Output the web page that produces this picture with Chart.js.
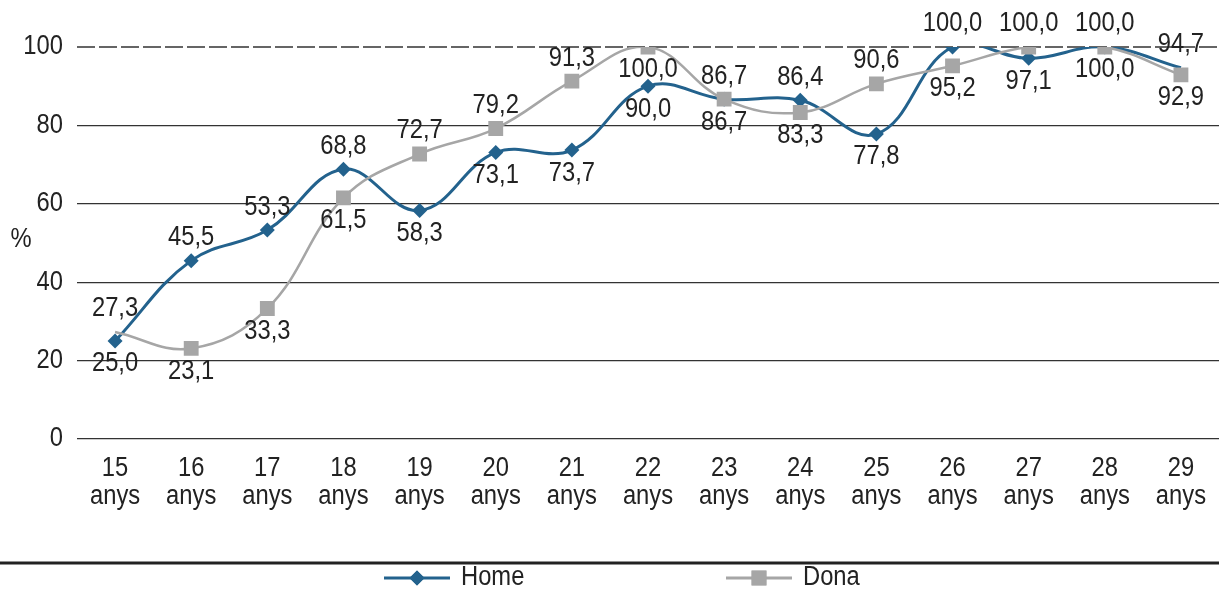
<!DOCTYPE html>
<html>
<head>
<meta charset="utf-8">
<script src="https://cdn.jsdelivr.net/npm/chart.js@4.4.1/dist/chart.umd.min.js"></script>
<style>
  html, body { margin: 0; padding: 0; background: #fff; overflow: hidden; }
  canvas { display: block; }
</style>
</head>
<body>
<canvas id="chart" width="1219" height="592"></canvas>
<script>
// --- Daten ---
const ages = ['15', '16', '17', '18', '19', '20', '21', '22', '23', '24', '25', '26', '27', '28', '29'];
const home = [25.0, 45.5, 53.3, 68.8, 58.3, 73.1, 73.7, 90.0, 86.7, 86.4, 77.8, 100.0, 97.1, 100.0, 94.7];
const dona = [27.3, 23.1, 33.3, 61.5, 72.7, 79.2, 91.3, 100.0, 86.7, 83.3, 90.6, 95.2, 100.0, 100.0, 92.9];
const yTicks = [0, 20, 40, 60, 80, 100];

// label position per point: -1 above, 1 below
const homePos = [1, -1, -1, -1, 1, 1, 1, 1, 1, -1, 1, -1, 1, -1, -1];
const donaPos = [-1, 1, 1, 1, -1, -1, -1, 1, -1, 1, -1, 1, -1, 1, 1];

const FONT = "'Liberation Sans', Arial, sans-serif";
const FSIZE = 27;
const SX = 0.88; // schmale Schrift nachbilden
const BLUE = '#23628d';
const GREY = '#a6a6a6';
const TEXT = '#222';

function fmt(v) {
    return v.toFixed(1).replace('.', ',');
}

// Text horizontal gestaucht zeichnen
function narrowText(ctx, txt, x, y, align) {
    ctx.save();
    ctx.translate(x, y);
    ctx.scale(SX, 1);
    ctx.textAlign = align || 'center';
    ctx.fillText(txt, 0, 0);
    ctx.restore();
}

const labelPlugin = {
    id: 'labels',
    beforeDatasetsDraw(chart) {
        // oberste Gitterlinie gestrichelt
        const ctx = chart.ctx;
        const a = chart.chartArea;
        const yp = chart.scales.y.getPixelForValue(100);
        ctx.save();
        ctx.strokeStyle = '#333';
        ctx.lineWidth = 1.3;
        ctx.setLineDash([18, 4]);
        ctx.beginPath();
        ctx.moveTo(a.left, yp);
        ctx.lineTo(a.right, yp);
        ctx.stroke();
        ctx.restore();
    },
    afterDatasetsDraw(chart) {
        const ctx = chart.ctx;
        const y = chart.scales.y;
        ctx.save();
        ctx.font = FSIZE + 'px ' + FONT;
        ctx.fillStyle = TEXT;
        ctx.textBaseline = 'middle';
        [[0, homePos], [1, donaPos]].forEach(([di, pos]) => {
            const meta = chart.getDatasetMeta(di);
            meta.data.forEach((pt, i) => {
                const v = chart.data.datasets[di].data[i];
                narrowText(ctx, fmt(v), pt.x, y.getPixelForValue(v) + pos[i] * 23);
            });
        });
        ctx.restore();
    },
    afterDraw(chart) {
        const ctx = chart.ctx;
        const xs = chart.scales.x;
        const ys = chart.scales.y;
        ctx.save();
        ctx.font = FSIZE + 'px ' + FONT;
        ctx.fillStyle = TEXT;
        ctx.textBaseline = 'middle';
        // Achsenbeschriftungen
        yTicks.forEach(v => narrowText(ctx, String(v), 63, ys.getPixelForValue(v), 'right'));
        ages.forEach((a, i) => {
            const px = xs.getPixelForValue(i);
            narrowText(ctx, a, px, 469);
            narrowText(ctx, 'anys', px, 497);
        });
        narrowText(ctx, '%', 21, 240);
        // Trennlinie
        ctx.strokeStyle = '#222';
        ctx.lineWidth = 3;
        ctx.beginPath();
        ctx.moveTo(0, 563);
        ctx.lineTo(1219, 563);
        ctx.stroke();
        // Legende
        const ly = 578;
        const items = [
            { x: 384, label: 'Home', color: BLUE, style: 'rectRot', r: 7.5 },
            { x: 726, label: 'Dona', color: GREY, style: 'rect', r: 10.5 }
        ];
        items.forEach(it => {
            ctx.strokeStyle = it.color;
            ctx.lineWidth = 3;
            ctx.beginPath();
            ctx.moveTo(it.x, ly);
            ctx.lineTo(it.x + 66, ly);
            ctx.stroke();
            ctx.fillStyle = it.color;
            Chart.helpers.drawPoint(ctx, { pointStyle: it.style, radius: it.r, borderWidth: 0, rotation: 0 }, it.x + 33, ly);
            ctx.fill();
            ctx.fillStyle = TEXT;
            narrowText(ctx, it.label, it.x + 77, ly, 'left');
        });
        ctx.restore();
    }
};

const ctx = document.getElementById('chart').getContext('2d');
const chart = new Chart(ctx, {
    type: 'line',
    data: {
        labels: ages.map(a => [a, 'anys']),
        datasets: [{
            label: 'Home',
            data: home,
            borderColor: BLUE,
            backgroundColor: BLUE,
            borderWidth: 3,
            pointStyle: 'rectRot',
            pointRadius: (c) => c.dataIndex === home.length - 1 ? 0 : 7.5,
            pointBorderWidth: 0,
            tension: 0.4,
            order: 1
        }, {
            label: 'Dona',
            data: dona,
            borderColor: GREY,
            backgroundColor: GREY,
            borderWidth: 2.5,
            pointStyle: 'rect',
            pointRadius: (c) => c.dataIndex === 0 ? 0 : 10.5,
            pointBorderWidth: 0,
            tension: 0.4,
            order: 0
        }]
    },
    options: {
        responsive: false,
        animation: false,
        devicePixelRatio: 1,
        layout: { autoPadding: false, padding: { top: 47, right: 0, left: 0, bottom: 78 } },
        elements: { line: { capBezierPoints: false } },
        plugins: {
            legend: { display: false },
            tooltip: { enabled: false }
        },
        scales: {
            x: {
                offset: true,
                grid: { display: false },
                border: { display: false },
                ticks: { display: false, autoSkip: false },
                afterFit(scale) {
                    scale.height = 75;
                    scale.paddingLeft = 0;
                    scale.paddingRight = 0;
                }
            },
            y: {
                min: 0,
                max: 100,
                afterBuildTicks(scale) { scale.ticks = yTicks.map(v => ({ value: v })); },
                grid: {
                    color: (c) => c.tick && c.tick.value === 100 ? 'rgba(0,0,0,0)' : '#333',
                    lineWidth: 1.3,
                    drawTicks: false
                },
                border: { display: false },
                ticks: { display: false },
                afterFit(scale) {
                    scale.width = 77;
                    scale.paddingTop = 0;
                    scale.paddingBottom = 0;
                }
            }
        }
    },
    plugins: [labelPlugin]
});
</script>
</body>
</html>
